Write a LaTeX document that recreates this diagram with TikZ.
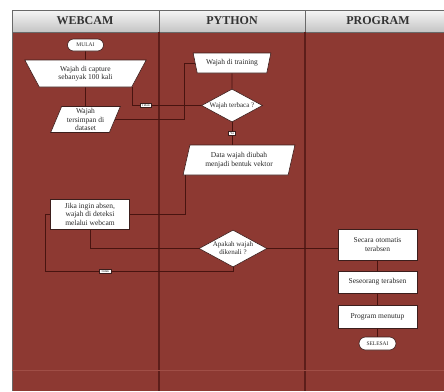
\documentclass[tikz,border=0pt]{standalone}
\usepackage{fontspec}
\setmainfont{Liberation Serif}
\usetikzlibrary{shapes.geometric,shapes.misc}
\definecolor{bodyred}{RGB}{141,57,50}
\definecolor{connline}{RGB}{72,20,16}
\definecolor{divline}{RGB}{92,30,26}
\definecolor{faintline}{RGB}{160,78,70}
\definecolor{hdrtop}{RGB}{246,246,246}
\definecolor{hdrbot}{RGB}{196,196,196}
\definecolor{hdredge}{RGB}{105,105,105}
\definecolor{boxedge}{RGB}{60,30,28}
\definecolor{txt}{RGB}{40,40,40}
\begin{document}
\begin{tikzpicture}[x=1pt,y=-1pt,
  txtfont/.style={font=\fontsize{7.5}{8.5}\selectfont},
  shapebase/.style={draw=boxedge, line width=0.6pt, fill=white, text=txt, align=center, inner sep=0pt, txtfont},
  procbox/.style={shapebase, rectangle, minimum width=79pt},
  termbox/.style={shapebase, rounded rectangle, font=\fontsize{5.5}{6.5}\selectfont},
  manualop/.style={shapebase, trapezium, trapezium stretches=true},
  iobox/.style={shapebase, trapezium, trapezium stretches=true},
  decision/.style={shapebase, diamond, aspect=1.85, font=\fontsize{7}{8}\selectfont},
  conn/.style={draw=connline, line width=0.8pt},
  tinylabel/.style={fill=white, draw=boxedge, line width=0.3pt, inner xsep=1.5pt, inner ysep=0.8pt, font=\fontsize{3.5}{4}\selectfont, text=txt},
  lanehead/.style={font=\bfseries\fontsize{12}{14}\selectfont, text=black!80},
]
\useasboundingbox (0,0) rectangle (444,391);
\fill[white] (0,0) rectangle (444,391);
\fill[bodyred] (12,32) rectangle (444,391);
\shade[top color=hdrtop, bottom color=hdrbot] (12,10) rectangle (444,32);
\draw[hdredge, line width=0.8pt] (444,10) -- (12,10) -- (12,391);
\draw[hdredge, line width=0.8pt] (12,32) -- (444,32);
\draw[hdredge, line width=0.8pt] (159,10) -- (159,32) (305,10) -- (305,32);
\draw[divline, line width=1.2pt] (159,32) -- (159,391) (305,32) -- (305,391);
\draw[faintline, line width=0.5pt] (12,370) -- (444,370);
\node[lanehead] (hweb) at (85,21) {WEBCAM};
\node[lanehead] (hpy) at (232,21) {PYTHON};
\node[lanehead] (hprog) at (378,21) {PROGRAM};

\node[termbox, minimum width=36pt, minimum height=12pt] (mulai) at (85.5,45) {MULAI};
\node[manualop, trapezium left angle=119, trapezium right angle=119, minimum width=122pt, minimum height=27pt] (capture) at (85.5,73.5) {Wajah di capture\\sebanyak 100 kali};
\node[iobox, trapezium left angle=69, trapezium right angle=111, minimum width=70pt, minimum height=26pt] (tersimpan) at (85.5,119.5) {Wajah\\tersimpan di\\dataset};
\node[manualop, trapezium left angle=114, trapezium right angle=114, minimum width=78pt, minimum height=20pt] (training) at (232,63) {Wajah di training};
\node[decision, minimum width=61pt, minimum height=33pt] (terbaca) at (232,105.5) {Wajah terbaca ?};
\node[iobox, trapezium left angle=73, trapezium right angle=107, minimum width=112pt, minimum height=30pt] (vektor) at (239,160) {Data wajah diubah\\menjadi bentuk vektor};
\node[procbox, minimum height=30pt] (jika) at (90,214) {Jika ingin absen,\\wajah di deteksi\\melalui webcam};
\node[decision, minimum width=68pt, minimum height=37pt] (apakah) at (233,248.5) {Apakah wajah\\dikenali ?};
\node[procbox, minimum height=31pt] (otomatis) at (377.5,244.5) {Secara otomatis\\terabsen};
\node[procbox, minimum height=22pt] (seseorang) at (377.5,282) {Seseorang terabsen};
\node[procbox, minimum height=23pt] (menutup) at (377.5,316.5) {Program menutup};
\node[termbox, minimum width=37pt, minimum height=13pt] (selesai) at (377.5,343.5) {SELESAI};

\coordinate (loopc) at (45,271);
\draw[conn] (mulai) -- (capture);
\draw[conn] (capture) -- (tersimpan);
\draw[conn] (tersimpan.east) -| ([xshift=-10pt]training.west) -- (training.west);
\draw[conn] (training) -- (terbaca);
\draw[conn] (terbaca.west) -| node[pos=0.4, tinylabel] (lbl1) {Tidak} (capture.bottom right corner);
\draw[conn] (terbaca.south) -- node[midway, tinylabel] (lbl2) {Ya} (terbaca.south |- vektor.north);
\draw[conn] ([xshift=3pt]vektor.bottom left corner) |- (jika.east);
\draw[conn] (jika.south) |- (apakah.west);
\draw[conn] (apakah.east) -- (apakah.east -| otomatis.west);
\draw[conn] (apakah.south) |- node[pos=0.84, tinylabel] (lbl3) {Tidak} (loopc) |- (jika.west);
\draw[conn] (otomatis) -- (seseorang);
\draw[conn] (seseorang) -- (menutup);
\draw[conn] (menutup) -- (selesai);
\end{tikzpicture}
\end{document}
